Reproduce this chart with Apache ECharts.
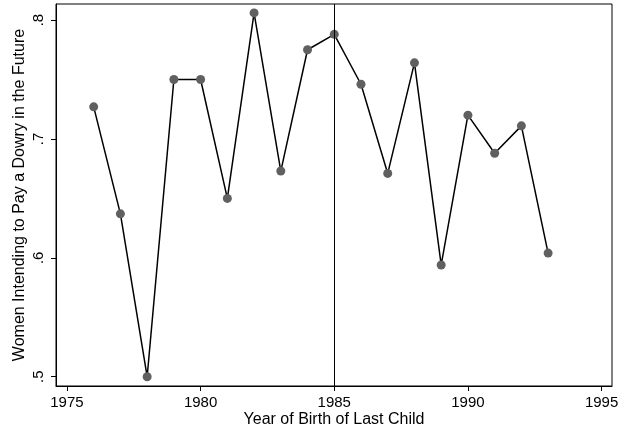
<!DOCTYPE html>
<html><head><meta charset="utf-8">
<script src="https://cdn.jsdelivr.net/npm/echarts@6/dist/echarts.min.js"></script>
<style>html,body{margin:0;padding:0;background:#fff}#c{width:618px;height:431px}</style>
</head><body><div id="c"></div>
<script>
const years = [1976,1977,1978,1979,1980,1981,1982,1983,1984,1985,1986,1987,1988,1989,1990,1991,1992,1993];
const shares = [0.727,0.637,0.500,0.750,0.750,0.650,0.806,0.673,0.775,0.788,0.746,0.671,0.764,0.594,0.720,0.688,0.711,0.604];
const xTicks = [1975,1980,1985,1990,1995];
const yTicks = [0.5,0.6,0.7,0.8];
const refYear = 1985;

const font = 'Liberation Sans, Arial, sans-serif';
const chart = echarts.init(document.getElementById('c'), null, {renderer:'canvas'});
chart.setOption({
  animation:false,
  grid:{left:56,top:4,right:6,bottom:45,show:true,borderColor:'#000',borderWidth:1,backgroundColor:'#fff',
    containLabel:false,outerBoundsMode:'none'},
  xAxis:{type:'value',min:1974.59,max:1995.39,
    name:'Year of Birth of Last Child',nameLocation:'middle',nameGap:26,nameMoveOverlap:false,
    nameTextStyle:{fontFamily:font,fontSize:16,color:'#000'},
    axisLine:{show:true,lineStyle:{color:'#000',width:1}},
    axisTick:{show:true,length:5,customValues:xTicks,lineStyle:{color:'#000'}},
    axisLabel:{customValues:xTicks,margin:9,fontFamily:font,fontSize:15,color:'#000',
      formatter:v=>String(Math.round(v))},
    splitLine:{show:false}},
  yAxis:{type:'value',min:0.4922,max:0.8135,
    name:'Women Intending to Pay a Dowry in the Future',nameLocation:'middle',nameGap:28,nameRotate:90,nameMoveOverlap:false,
    nameTextStyle:{fontFamily:font,fontSize:16,color:'#000'},
    axisLine:{show:true,lineStyle:{color:'#000',width:1}},
    axisTick:{show:true,length:5,customValues:yTicks,lineStyle:{color:'#000'}},
    axisLabel:{customValues:yTicks,rotate:90,margin:10,fontFamily:font,fontSize:15,color:'#000',
      formatter:v=>String(Math.round(v*10)/10).replace(/^0/,'')},
    splitLine:{show:false}},
  series:[{type:'line',data:years.map((y,i)=>[y,shares[i]]),
    symbol:'circle',symbolSize:9,
    itemStyle:{color:'#606060'},
    lineStyle:{color:'#000',width:1.5},
    markLine:{silent:true,symbol:'none',label:{show:false},
      lineStyle:{color:'#000',width:1,type:'solid'},
      data:[{xAxis:refYear}]}}]
});
</script></body></html>
